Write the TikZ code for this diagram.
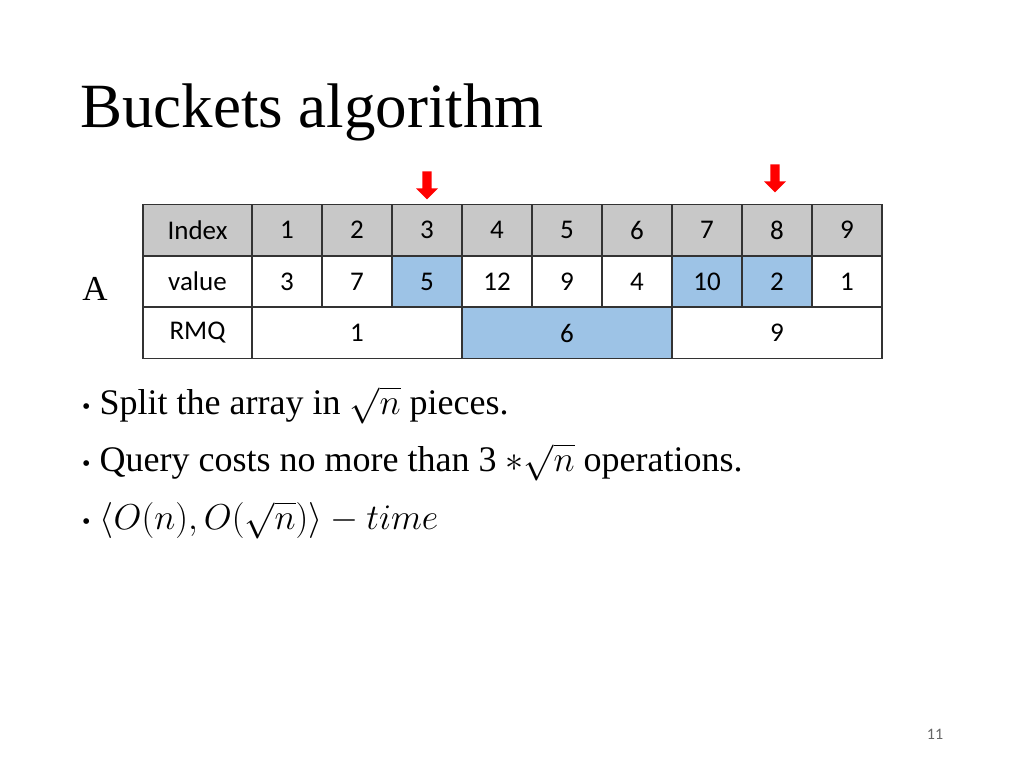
\RequirePackage{fix-cm}
\documentclass[tikz,border=0pt]{standalone}
\usepackage{amsmath}
\usepackage{fontspec}
\setmainfont{Liberation Serif}
\newfontfamily\cellfont{Carlito}
\usetikzlibrary{shapes.arrows}
\tikzset{
  cell/.style={draw=black!80,line width=1.2pt,minimum height=51pt,inner sep=0pt,font=\cellfont\fontsize{27}{30}\selectfont},
  bullet/.style={anchor=west,inner sep=0pt,font=\fontsize{36}{40}\selectfont},
  marker/.style={single arrow,fill=red,draw=none,rotate=-90,minimum height=28pt,minimum width=22pt,single arrow head extend=3pt,inner sep=2pt}
}
\definecolor{hdr}{RGB}{200,200,200}
\definecolor{hl}{RGB}{157,195,230}
\begin{document}
\begin{tikzpicture}[x=1pt,y=-1pt]
\useasboundingbox (0,0) rectangle (1024,768);
\node[anchor=west,inner sep=0pt,font=\fontsize{63}{66}\selectfont] (title) at (80,112) {Buckets algorithm};
\node[inner sep=0pt,font=\fontsize{35}{36}\selectfont] (A) at (95,289) {A};
% index row
\node[cell,fill=hdr,minimum width=109pt] (i0) at (197.5,230) {Index};
\foreach \i in {1,...,9}
  \node[cell,fill=hdr,minimum width=70pt] (i\i) at (217+70*\i,230) {\i};
% value row
\node[cell,minimum width=109pt] (v0) at (197.5,281.5) {value};
\foreach \i/\v/\c in {1/3/white,2/7/white,3/5/hl,4/12/white,5/9/white,6/4/white,7/10/hl,8/2/hl,9/1/white}
  \node[cell,fill=\c,minimum width=70pt] (v\i) at (217+70*\i,281.5) {\v};
% rmq row
\node[cell,minimum width=109pt] (r0) at (197.5,333) {RMQ};
\node[cell,minimum width=210pt] (r1) at (357,333) {1};
\node[cell,fill=hl,minimum width=210pt] (r2) at (567,333) {6};
\node[cell,minimum width=210pt] (r3) at (777,333) {9};
% pointers
\node[marker] (p3) at (427,183) {};
\node[marker] (p8) at (775,176) {};
% bullets
\node[bullet] (b1) at (82,405) {{\fontsize{24}{24}\selectfont\textbullet}\ Split the array in $\sqrt{n}$ pieces.};
\node[bullet] (b2) at (82,462) {{\fontsize{24}{24}\selectfont\textbullet}\ Query costs no more than 3 $*\sqrt{n}$ operations.};
\node[bullet] (b3) at (82,520) {{\fontsize{24}{24}\selectfont\textbullet}\ $\left\langle O(n),O(\sqrt{n})\right\rangle-time$};
\node[font=\cellfont\fontsize{16}{18}\selectfont,text=black!60] (pg) at (935,734) {11};
\end{tikzpicture}
\end{document}
